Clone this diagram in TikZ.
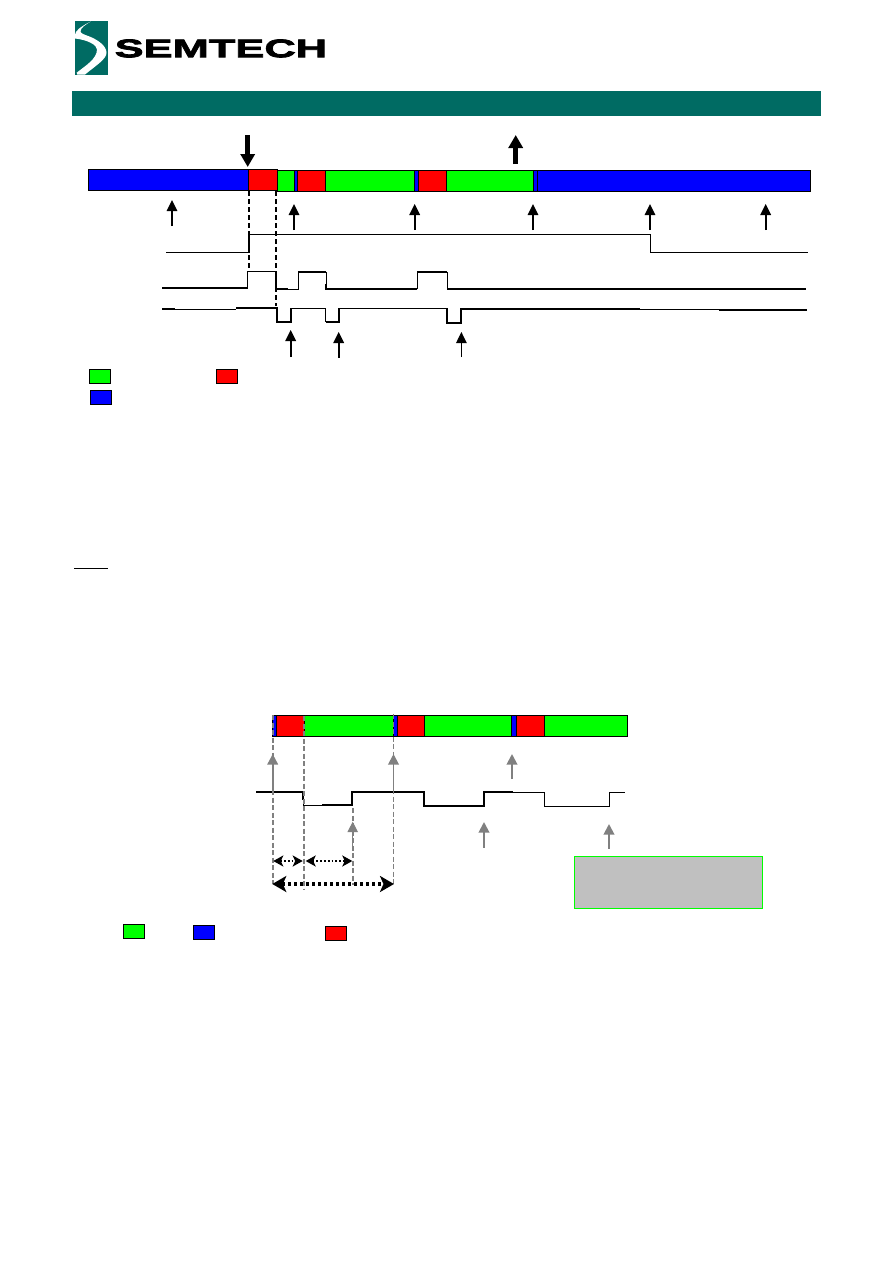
\documentclass[tikz,border=0pt]{standalone}
\usepackage{xcolor}
\usepackage{fontspec}
\usetikzlibrary{positioning,arrows.meta}
\newfontfamily\logofont[BoldFeatures={FakeBold=3,FakeStretch=1.71}]{Liberation Sans}
\definecolor{bandteal}{RGB}{0,107,99}
\definecolor{segblue}{RGB}{0,0,255}
\definecolor{seggreen}{RGB}{0,255,0}
\definecolor{segred}{RGB}{255,0,0}
\definecolor{boxgrey}{RGB}{192,192,192}
\definecolor{arrowgrey}{RGB}{128,128,128}

\begin{document}
\begin{tikzpicture}[x=1pt,y=-1pt,
    seg/.style = {draw, line width=1pt, inner sep=0pt, outer sep=0pt, minimum height=21pt},
    key/.style = {draw, line width=1pt, inner sep=0pt, outer sep=0pt, minimum width=21pt, minimum height=14pt},
    bigup/.style = {-{Triangle[width=14pt,length=13pt]}, line width=4.8pt},
    upthin/.style = {-{Triangle[width=10.5pt,length=11pt]}, line width=1.6pt},
    upgrey/.style = {-{Triangle[width=10.5pt,length=10.5pt]}, line width=1.9pt, arrowgrey},
    guide/.style = {dash pattern=on 5pt off 3pt, line width=1.8pt},
    greyguide/.style = {arrowgrey, dash pattern=on 5pt off 2.5pt, line width=1.8pt},
    span/.style = {{Stealth[width=11pt,length=10pt,inset=2.5pt]}-{Stealth[width=11pt,length=10pt,inset=2.5pt]}, dash pattern=on 1.8pt off 2pt, line width=1.9pt},
    longspan/.style = {{Stealth[width=16pt,length=14pt,inset=3.5pt]}-{Stealth[width=16pt,length=14pt,inset=3.5pt]}, dash pattern=on 3pt off 3pt, line width=3.2pt}]
        \useasboundingbox (0,0) rectangle (892,1263);

        % logo and band
        \fill[bandteal] (75,21) rectangle (107.7,74.5);
        \fill[white] (90.7,21.5) .. controls (80,27) and (75,31) .. (75,35) -- (75,38.5)
            .. controls (88,40) and (97,45) .. (97,49.5)
            .. controls (97,59) and (85,66) .. (76.7,72.7) -- (77.3,74.5) -- (85,74.5)
            .. controls (96.7,65) and (106.5,59) .. (106.5,52.7)
            .. controls (106.5,46) and (98,40) .. (90,36.7)
            .. controls (84,34.5) and (80.5,33.3) .. (80.5,31.5)
            .. controls (80.5,28) and (85,25) .. (90.7,21.5);
        \node[anchor=base west, inner sep=0pt, font=\logofont\bfseries\fontsize{25.4}{26}\selectfont] (logo) at (114.5,57.2) {SEMTECH};
        \node[fill=bandteal, inner sep=0pt, minimum width=749pt, minimum height=25pt, anchor=north west] (band) at (72,91) {};

        % upper bar
        \node[seg,fill=segblue,minimum width=159.5pt,anchor=north west] (b1) at (88.5,169.7) {};
        \node[seg,fill=segred,minimum width=29.5pt,right=0pt of b1] (r1) {};
        \node[seg,fill=seggreen,minimum width=17pt,anchor=north west] (g1) at (277.5,170.5) {};
        \node[seg,fill=segblue,minimum width=3.3pt,right=0pt of g1] (b2) {};
        \node[seg,fill=segred,minimum width=27.9pt,right=0pt of b2] (r2) {};
        \node[seg,fill=seggreen,minimum width=88.6pt,right=0pt of r2] (g2) {};
        \node[seg,fill=segblue,minimum width=4.4pt,right=0pt of g2] (b3) {};
        \node[seg,fill=segred,minimum width=28pt,right=0pt of b3] (r3) {};
        \node[seg,fill=seggreen,minimum width=86.7pt,right=0pt of r3] (g3) {};
        \node[seg,fill=segblue,minimum width=4.2pt,right=0pt of g3] (b4) {};
        \node[seg,fill=segblue,minimum width=273pt,right=0pt of b4] (b5) {};

        % bold arrows over the bar
        \coordinate (dn1) at (247.7,135);
        \coordinate (dn2) at (247.7,167);
        \coordinate (up1) at (515.7,164);
        \coordinate (up2) at (515.7,135);
        \draw[bigup] (dn1) to (dn2);
        \draw[bigup] (up1) to (up2);

        % arrows under the bar
        \coordinate (p1) at (172,226);
        \coordinate[above=26pt of p1] (q1);
        \coordinate (p2) at (294,230);
        \coordinate[above=26pt of p2] (q2);
        \coordinate (p3) at (414.7,230);
        \coordinate[above=26pt of p3] (q3);
        \coordinate (p4) at (533,230);
        \coordinate[above=26pt of p4] (q4);
        \coordinate (p5) at (650,230);
        \coordinate[above=26pt of p5] (q5);
        \coordinate (p6) at (765.7,230);
        \coordinate[above=26pt of p6] (q6);
        \draw[upthin] (p1) to (q1);
        \draw[upthin] (p2) to (q2);
        \draw[upthin] (p3) to (q3);
        \draw[upthin] (p4) to (q4);
        \draw[upthin] (p5) to (q5);
        \draw[upthin] (p6) to (q6);

        % three traces
        \draw[line width=1pt] (166,252.3) -- (249,252.3) -- (249,234.3) -- (650.5,234.3) -- (650.5,252.3) -- (808,252.3);
        \draw[line width=2pt] (249,252.3) -- (249,234.3);
        \draw[line width=1.8pt] (162,288) -- (247.7,288);
        \draw[line width=1pt] (247.7,288) -- (247.7,271.3) -- (275.8,271.3) -- (275.8,289);
        \draw[line width=1.8pt] (275.8,271.3) -- (275.8,289) -- (288,289);
        \draw[line width=1pt] (288,289) -- (298.3,289) -- (298.3,272);
        \draw[line width=1.8pt] (298.3,272) -- (326.3,272);
        \draw[line width=1pt] (326.3,272) -- (326.3,284);
        \draw[line width=1.8pt] (326.3,284) -- (326.3,289) -- (417.3,289);
        \draw[line width=1pt] (417.3,289) -- (417.3,272);
        \draw[line width=1.8pt] (417.3,272) -- (447,272);
        \draw[line width=1pt] (447,272) -- (447,289);
        \draw[line width=1.8pt] (447,289) -- (806,289);
        \draw[line width=1.8pt] (162,309) -- (175,309);
        \draw[line width=1pt] (175,309) -- (236,309);
        \draw[line width=1.8pt] (236,308.3) -- (277.3,308.3) -- (277.3,322) -- (290.7,322) -- (290.7,308.5) -- (325.7,308.5);
        \draw[line width=1pt] (325.7,308.5) -- (325.7,322);
        \draw[line width=1.8pt] (325.7,322) -- (338.7,322) -- (338.7,308.5) -- (447,308.5) -- (447,323) -- (460.7,323) -- (460.7,309) -- (640,309);
        \draw[line width=1pt] (640,309.3) -- (719,309.3);
        \draw[line width=1.8pt] (719,310) -- (806.7,310);

        % guides from the bar to the traces
        \coordinate (d1) at (249,191);
        \coordinate (e1) at (249,271);
        \coordinate (d2) at (275.8,191);
        \coordinate (e2) at (275.8,306);
        \draw[guide] (d1) to (e1);
        \draw[guide] (d2) to (e2);

        % arrows under the traces
        \coordinate (p7) at (290.7,357);
        \coordinate[above=27pt of p7] (q7);
        \coordinate (p8) at (338.7,357.5);
        \coordinate[above=25.5pt of p8] (q8);
        \coordinate (p9) at (461.4,357);
        \coordinate[above=25pt of p9] (q9);
        \draw[upthin] (p7) to (q7);
        \draw[upthin] (p8) to (q8);
        \draw[upthin,line width=1pt] (p9) to (q9);

        % legend of the upper bar
        \node[key,fill=seggreen,anchor=north west] (k1) at (89.3,369.3) {};
        \node[key,fill=segred,anchor=north west] (k2) at (216.5,369.3) {};
        \node[key,fill=segblue,anchor=north west] (k3) at (90.3,390.7) {};

        \coordinate (u1) at (74,568.3);
        \coordinate (u2) at (107.7,568.3);
        \draw[line width=1pt] (u1) to (u2);

        % lower bar
        \node[seg,fill=segblue,minimum width=4.4pt,anchor=north west] (lb1) at (272.3,715.3) {};
        \node[seg,fill=segred,minimum width=27.6pt,right=0pt of lb1] (lr1) {};
        \node[seg,fill=seggreen,minimum width=89pt,right=0pt of lr1] (lg1) {};
        \node[seg,fill=segblue,minimum width=4pt,right=0pt of lg1] (lb2) {};
        \node[seg,fill=segred,minimum width=27.4pt,right=0pt of lb2] (lr2) {};
        \node[seg,fill=seggreen,minimum width=86.8pt,right=0pt of lr2] (lg2) {};
        \node[seg,fill=segblue,minimum width=4.8pt,right=0pt of lg2] (lb3) {};
        \node[seg,fill=segred,minimum width=28pt,right=0pt of lb3] (lr3) {};
        \node[seg,fill=seggreen,minimum width=83.4pt,right=0pt of lr3] (lg3) {};

        % lower trace
        \draw[line width=1.8pt] (256,791.7) -- (303.3,791.7) -- (303.3,800);
        \draw[line width=1pt] (303.3,800) -- (303.3,805.3) -- (322,805.3);
        \draw[line width=1.8pt] (322,805) -- (352.3,805) -- (352.3,791.7) -- (424.3,791.7) -- (424.3,805.8) -- (484,805.8) -- (484,791.7) -- (513,791.7);
        \draw[line width=1pt] (513,792.3) -- (544.3,792.3) -- (544.3,806.3) -- (609.4,806.3) -- (609.4,792.3) -- (625,792.3);

        % grey arrows
        \coordinate (lp1) at (272.7,790);
        \coordinate (lq1) at (272.7,754);
        \coordinate (lp2) at (393.5,790);
        \coordinate (lq2) at (393.5,754);
        \coordinate (lp3) at (512,779);
        \coordinate (lq3) at (512,754);
        \coordinate (lp4) at (352.7,848);
        \coordinate (lq4) at (352.7,821.7);
        \coordinate (lp5) at (484,847.7);
        \coordinate (lq5) at (484,822);
        \coordinate (lp6) at (609,848.7);
        \coordinate (lq6) at (609,824);
        \draw[upgrey] (lp1) to (lq1);
        \draw[upgrey] (lp2) to (lq2);
        \draw[upgrey] (lp3) to (lq3);
        \draw[upgrey,line width=1.2pt] (lp4) to (lq4);
        \draw[upgrey] (lp5) to (lq5);
        \draw[upgrey] (lp6) to (lq6);

        % grey guides
        \coordinate (gt1) at (272.7,715);
        \coordinate (gb1) at (272.7,884);
        \coordinate (gt2) at (303.7,716);
        \coordinate (gb2) at (303.7,890);
        \coordinate (gt3) at (393.5,714);
        \coordinate (gb3) at (393.5,884);
        \coordinate (gt4) at (353,808);
        \coordinate (gb4) at (353,885);
        \draw[greyguide] (gt1) to (gb1);
        \draw[greyguide,line width=2.2pt] (gt2) to (gb2);
        \draw[greyguide,line width=1.4pt] (gt3) to (gb3);
        \draw[greyguide,line width=1.5pt] (gt4) to (gb4);

        % spans
        \coordinate (s1) at (273.3,861);
        \coordinate (s2) at (302.7,861);
        \coordinate (s3) at (305.7,861);
        \coordinate (s4) at (352.3,861);
        \coordinate (s5) at (272.3,884);
        \coordinate (s6) at (394,884);
        \draw[span] (s1) to (s2);
        \draw[span] (s3) to (s4);
        \draw[longspan] (s5) to (s6);

        % grey box and lower legend
        \node[draw=seggreen,fill=boxgrey,line width=1pt,inner sep=0pt,outer sep=0pt,minimum width=188.4pt,minimum height=52.4pt,anchor=north west] (note) at (574.3,856.3) {};
        \node[key,fill=seggreen,anchor=north west] (lk1) at (123.3,924.3) {};
        \node[key,fill=segblue,anchor=north west] (lk2) at (193.3,925.3) {};
        \node[key,fill=segred,anchor=north west] (lk3) at (325.3,926) {};
\end{tikzpicture}
\end{document}
